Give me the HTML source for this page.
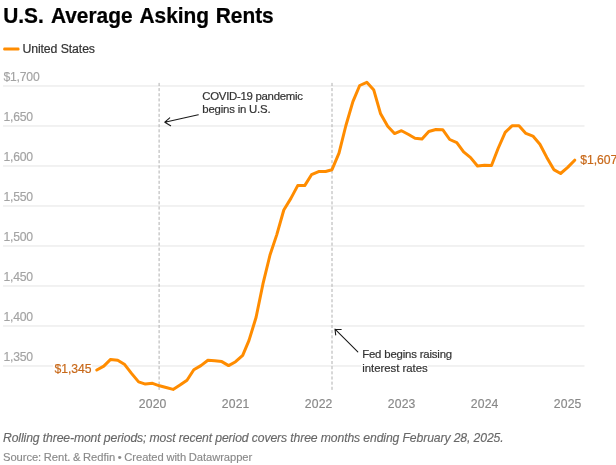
<!DOCTYPE html>
<html lang="en">
<head>
<meta charset="utf-8">
<title>U.S. Average Asking Rents</title>
<style>
html,body{margin:0;padding:0;background:#fff;}
body{width:616px;height:465px;overflow:hidden;position:relative;}
svg{position:absolute;left:0;top:0;display:block;font-family:"Liberation Sans",Arial,sans-serif;}
text{white-space:pre;}
.title{font-weight:700;fill:#000;}
.legend{fill:#333;stroke:#333;stroke-width:0.2px;}
.yl{fill:#a3a3a3;stroke:#a3a3a3;stroke-width:0.15px;}
.xl{fill:#888;stroke:#888;stroke-width:0.15px;}
.ann{fill:#333;stroke:#333;stroke-width:0.2px;}
.vl{fill:#c8691a;stroke:#c8691a;stroke-width:0.2px;}
.note{font-style:italic;fill:#686868;stroke:#686868;stroke-width:0.15px;}
.src{fill:#8a8a8a;stroke:#8a8a8a;stroke-width:0.15px;}
</style>
</head>
<body>
<svg width="616" height="465" viewBox="0 0 616 465">
  <rect x="0" y="0" width="616" height="465" fill="#fff"/>
  <g stroke="#e4e4e4" stroke-width="1">
    <line x1="3" x2="584.5" y1="85.97" y2="85.97"/>
    <line x1="3" x2="584.5" y1="125.97" y2="125.97"/>
    <line x1="3" x2="584.5" y1="165.97" y2="165.97"/>
    <line x1="3" x2="584.5" y1="205.97" y2="205.97"/>
    <line x1="3" x2="584.5" y1="245.97" y2="245.97"/>
    <line x1="3" x2="584.5" y1="285.97" y2="285.97"/>
    <line x1="3" x2="584.5" y1="325.97" y2="325.97"/>
    <line x1="3" x2="584.5" y1="365.97" y2="365.97"/>
  </g>
  <g stroke="#b0b0b0" stroke-width="1" stroke-dasharray="3.1,2.05">
    <line x1="159.1" x2="159.1" y1="82.9" y2="390.3"/>
    <line x1="332.0" x2="332.0" y1="82.9" y2="390.3"/>
  </g>
  <g fill="#fff">
    <rect x="53" y="362" width="39.2" height="14"/>
    <rect x="361.3" y="362" width="66.5" height="12"/>
    <rect x="582" y="156" width="34" height="12"/>
  </g>
  <rect x="3.2" y="47.5" width="16.3" height="3" rx="1.2" fill="#ff8c00"/>
  <polyline id="line" fill="none" stroke="#ff8c00" stroke-width="3" stroke-linejoin="round" stroke-linecap="round" points="96.8,370.0 103.8,366.1 110.6,359.4 117.7,360.2 124.7,364.6 131.5,373.4 138.6,381.9 145.4,384.1 152.5,383.3 159.5,385.8 166.1,387.5 173.1,389.4 180.0,385.1 187.0,380.2 193.8,369.8 200.9,365.6 207.9,360.3 214.7,360.8 221.8,361.6 228.6,365.6 235.6,361.7 242.7,355.3 249.0,340.4 256.1,317.3 262.9,284.2 270.0,255.0 276.8,234.6 283.8,210.0 290.9,198.4 297.7,185.6 304.7,185.6 311.5,174.7 318.6,171.6 325.6,171.5 332.0,169.7 339.0,153.1 345.9,125.5 352.9,101.6 359.7,85.5 366.8,82.3 373.8,90.1 380.6,113.8 387.7,126.3 394.5,133.6 401.5,130.7 408.6,134.5 415.0,138.2 422.0,139.1 428.8,131.5 435.9,129.5 442.7,129.7 449.7,139.5 456.8,142.6 463.6,151.9 470.6,157.6 477.5,166.0 484.5,165.3 491.5,165.5 498.1,148.5 505.2,132.4 512.0,125.8 519.0,125.8 525.9,133.4 532.9,136.1 539.9,144.2 546.8,157.4 553.8,169.6 560.6,173.5 567.7,167.4 574.7,160.2"/>
  <g stroke="#1a1a1a" stroke-width="1.1" fill="none" stroke-linecap="round" stroke-linejoin="round">
    <path d="M198.3 114.8 L164.8 122.2 M169.7 117.9 L164.8 122.2 L170.6 125.7"/>
    <path d="M357.8 351.8 L335.0 329.2 M341.2 329.5 L335.0 329.2 L335.7 334.9"/>
  </g>
  <text class="title" transform="translate(3.2,23.4) scale(0.925,1)" x="0" y="0" font-size="22.6" word-spacing="0.9" stroke="#000" stroke-width="0.25">U.S. <tspan dx="0.5">Average</tspan> <tspan dx="0.2">Asking</tspan> Rents</text>
  <text class="legend" x="22.40" y="53.40" font-size="12.30" style="letter-spacing:-0.100px;">United States</text>
  <text class="yl" x="3.50" y="80.90" font-size="12.20" style="letter-spacing:-0.220px;">$1,700</text>
  <text class="yl" x="3.50" y="120.90" font-size="12.20" style="letter-spacing:-0.220px;">1,650</text>
  <text class="yl" x="3.50" y="160.90" font-size="12.20" style="letter-spacing:-0.220px;">1,600</text>
  <text class="yl" x="3.50" y="200.90" font-size="12.20" style="letter-spacing:-0.220px;">1,550</text>
  <text class="yl" x="3.50" y="240.90" font-size="12.20" style="letter-spacing:-0.220px;">1,500</text>
  <text class="yl" x="3.50" y="280.90" font-size="12.20" style="letter-spacing:-0.220px;">1,450</text>
  <text class="yl" x="3.50" y="320.90" font-size="12.20" style="letter-spacing:-0.220px;">1,400</text>
  <text class="yl" x="3.50" y="360.90" font-size="12.20" style="letter-spacing:-0.220px;">1,350</text>
  <text class="xl" x="152.70" y="407.90" font-size="12.20" text-anchor="middle" style="letter-spacing:0.150px;">2020</text>
  <text class="xl" x="235.70" y="407.90" font-size="12.20" text-anchor="middle" style="letter-spacing:0.150px;">2021</text>
  <text class="xl" x="318.70" y="407.90" font-size="12.20" text-anchor="middle" style="letter-spacing:0.150px;">2022</text>
  <text class="xl" x="401.70" y="407.90" font-size="12.20" text-anchor="middle" style="letter-spacing:0.150px;">2023</text>
  <text class="xl" x="484.70" y="407.90" font-size="12.20" text-anchor="middle" style="letter-spacing:0.150px;">2024</text>
  <text class="xl" x="567.70" y="407.90" font-size="12.20" text-anchor="middle" style="letter-spacing:0.150px;">2025</text>
  <text class="ann" font-size="11.4"><tspan x="202.3" y="100.1" style="letter-spacing:-0.28px">COVID-19 pandemic </tspan><tspan x="202.3" y="113.1" style="letter-spacing:-0.2px">begins in U.S.</tspan></text>
  <text class="ann" font-size="11.4"><tspan x="362.2" y="357.7" style="letter-spacing:-0.18px">Fed begins raising </tspan><tspan x="362.2" y="371.7" style="letter-spacing:-0.03px">interest rates</tspan></text>
  <text class="vl" x="54.50" y="372.90" font-size="12.20" style="letter-spacing:-0.050px;">$1,345</text>
  <text class="vl" x="580.30" y="163.70" font-size="12.20" style="letter-spacing:-0.050px;">$1,607</text>
  <text class="note" x="3.00" y="441.90" font-size="12.20" style="letter-spacing:-0.112px;">Rolling three-mont periods; most recent period covers three months ending February 28, 2025.</text>
  <text class="src" x="3.00" y="460.60" font-size="11.20" style="letter-spacing:-0.060px;" word-spacing="-0.35">Source: Rent. &amp; Redfin • Created with Datawrapper</text>
</svg>
</body>
</html>
